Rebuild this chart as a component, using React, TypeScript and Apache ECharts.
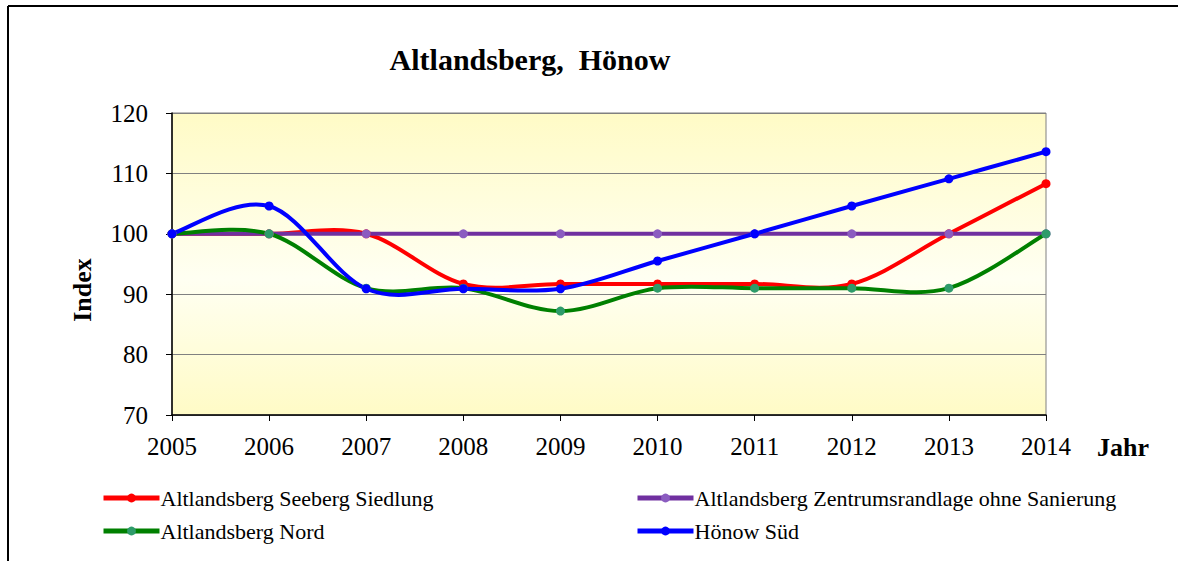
import React, { useEffect, useRef } from "react";
import * as echarts from "echarts";

const years = ["2005", "2006", "2007", "2008", "2009", "2010", "2011", "2012", "2013", "2014"];
const seebergSiedlung = [100, 100, 100, 91.7, 91.7, 91.7, 91.7, 91.7, 100, 108.3];
const zentrumsrandlage = [100, 100, 100, 100, 100, 100, 100, 100, 100, 100];
const nord = [100, 100, 91, 91, 87.2, 91, 91, 91, 91, 100];
const hoenowSued = [100, 104.6, 90.9, 90.9, 90.9, 95.5, 100, 104.6, 109.1, 113.6];

const seriesNames = [
  "Altlandsberg Seeberg Siedlung",
  "Altlandsberg Zentrumsrandlage ohne Sanierung",
  "Altlandsberg Nord",
  "Hönow Süd",
];
const lineColors = ["#ff0000", "#7030a0", "#008000", "#0000ff"];
const markerColors = ["#ff0000", "#8b5cc0", "#2e9b6a", "#0000ff"];
const allData = [seebergSiedlung, zentrumsrandlage, nord, hoenowSued];

const FONT = "'Liberation Serif', 'Times New Roman', serif";

export default function App() {
  const ref = useRef<HTMLDivElement>(null);
  useEffect(() => {
    if (!ref.current) return;
    const chart = echarts.init(ref.current, undefined, { renderer: "svg" });

    // Excel-like smoothed curve (Catmull-Rom / Bezier), drawn through the chart's scales
    const curve = (k: number) => {
      const data = allData[k];
      const n = data.length;
      const color = lineColors[k];
      return {
        type: "custom",
        name: "_curve" + k,
        z: 2 + k,
        silent: true,
        data: data.map((v, i) => [i, v]),
        encode: { x: 0, y: 1 },
        renderItem: (params: any, api: any) => {
          const i = params.dataIndex;
          if (i >= n - 1) return { type: "group", children: [] };
          const cl = (j: number) => Math.max(0, Math.min(n - 1, j));
          const pt = (j: number) => api.coord([cl(j), data[cl(j)]]);
          const p0 = pt(i - 1), p1 = pt(i), p2 = pt(i + 1), p3 = pt(i + 2);
          const c1x = p1[0] + (p2[0] - p0[0]) / 6;
          const c1y = p1[1] + (p2[1] - p0[1]) / 6;
          const c2x = p2[0] - (p3[0] - p1[0]) / 6;
          const c2y = p2[1] - (p3[1] - p1[1]) / 6;
          return {
            type: "bezierCurve",
            shape: {
              x1: p1[0], y1: p1[1],
              cpx1: c1x, cpy1: c1y,
              cpx2: c2x, cpy2: c2y,
              x2: p2[0], y2: p2[1],
            },
            style: { stroke: color, lineWidth: 4, fill: null, lineCap: "round" },
          };
        },
      };
    };

    const markers = (k: number) => ({
      name: seriesNames[k],
      type: "line",
      data: allData[k],
      symbol: "circle",
      symbolSize: 9,
      z: 10 + k,
      lineStyle: { color: lineColors[k], width: 4, opacity: 0 },
      itemStyle: { color: markerColors[k] },
    });

    const legendItem = (k: number) => ({
      name: seriesNames[k],
      lineStyle: { color: lineColors[k], width: 5, opacity: 1 },
      itemStyle: { color: markerColors[k] },
    });

    const legendCommon = {
      orient: "vertical",
      top: 482,
      itemGap: 11,
      itemWidth: 56,
      itemHeight: 11,
      textStyle: { fontSize: 22, fontFamily: FONT, color: "#000", padding: [0, 0, 0, -4] },
    };

    chart.setOption({
      animation: false,
      textStyle: { fontFamily: FONT },
      grid: {
        left: 172,
        top: 113,
        right: 132,
        bottom: 146,
        show: true,
        borderColor: "#808080",
        borderWidth: 1,
        backgroundColor: new echarts.graphic.LinearGradient(0, 0, 0, 1, [
          { offset: 0, color: "#fffbc6" },
          { offset: 0.55, color: "#fffff2" },
          { offset: 1, color: "#fffbc6" },
        ]),
      },
      xAxis: {
        type: "category",
        data: years,
        boundaryGap: false,
        axisLine: { lineStyle: { color: "#000", width: 1.5 } },
        axisTick: { show: true, length: 6, lineStyle: { color: "#000" } },
        axisLabel: { color: "#000", fontSize: 25, fontFamily: FONT, margin: 19 },
        splitLine: { show: false },
      },
      yAxis: {
        type: "value",
        min: 70,
        max: 120,
        interval: 10,
        axisLine: { show: true, lineStyle: { color: "#000", width: 1.5 } },
        axisTick: { show: true, length: 6, lineStyle: { color: "#000" } },
        axisLabel: { color: "#000", fontSize: 25, fontFamily: FONT, margin: 24 },
        splitLine: { show: true, lineStyle: { color: "#808080", width: 1 } },
      },
      legend: [
        { ...legendCommon, left: 96, data: [legendItem(0), legendItem(2)] },
        { ...legendCommon, left: 630, data: [legendItem(1), legendItem(3)] },
      ],
      graphic: [
        {
          type: "line",
          shape: { x1: 8, y1: 6, x2: 1178, y2: 6 },
          style: { stroke: "#000", lineWidth: 2 },
        },
        {
          type: "line",
          shape: { x1: 8, y1: 6, x2: 8, y2: 561 },
          style: { stroke: "#000", lineWidth: 2 },
        },
        {
          type: "text",
          x: 530,
          y: 59,
          style: {
            text: "Altlandsberg,  Hönow",
            font: `bold 30px ${FONT}`,
            fill: "#000",
            align: "center",
            verticalAlign: "middle",
          },
        },
        {
          type: "text",
          x: 82,
          y: 290,
          rotation: Math.PI / 2,
          style: {
            text: "Index",
            font: `bold 26px ${FONT}`,
            fill: "#000",
            align: "center",
            verticalAlign: "middle",
          },
        },
        {
          type: "text",
          x: 1123,
          y: 447,
          style: {
            text: "Jahr",
            font: `bold 26px ${FONT}`,
            fill: "#000",
            align: "center",
            verticalAlign: "middle",
          },
        },
      ],
      series: [curve(0), curve(1), curve(2), curve(3), markers(0), markers(1), markers(2), markers(3)],
    });
    return () => chart.dispose();
  }, []);
  return (
    <div
      ref={ref}
      style={{ position: "fixed", left: 0, top: 0, width: 1178, height: 561, background: "#fff" }}
    />
  );
}
